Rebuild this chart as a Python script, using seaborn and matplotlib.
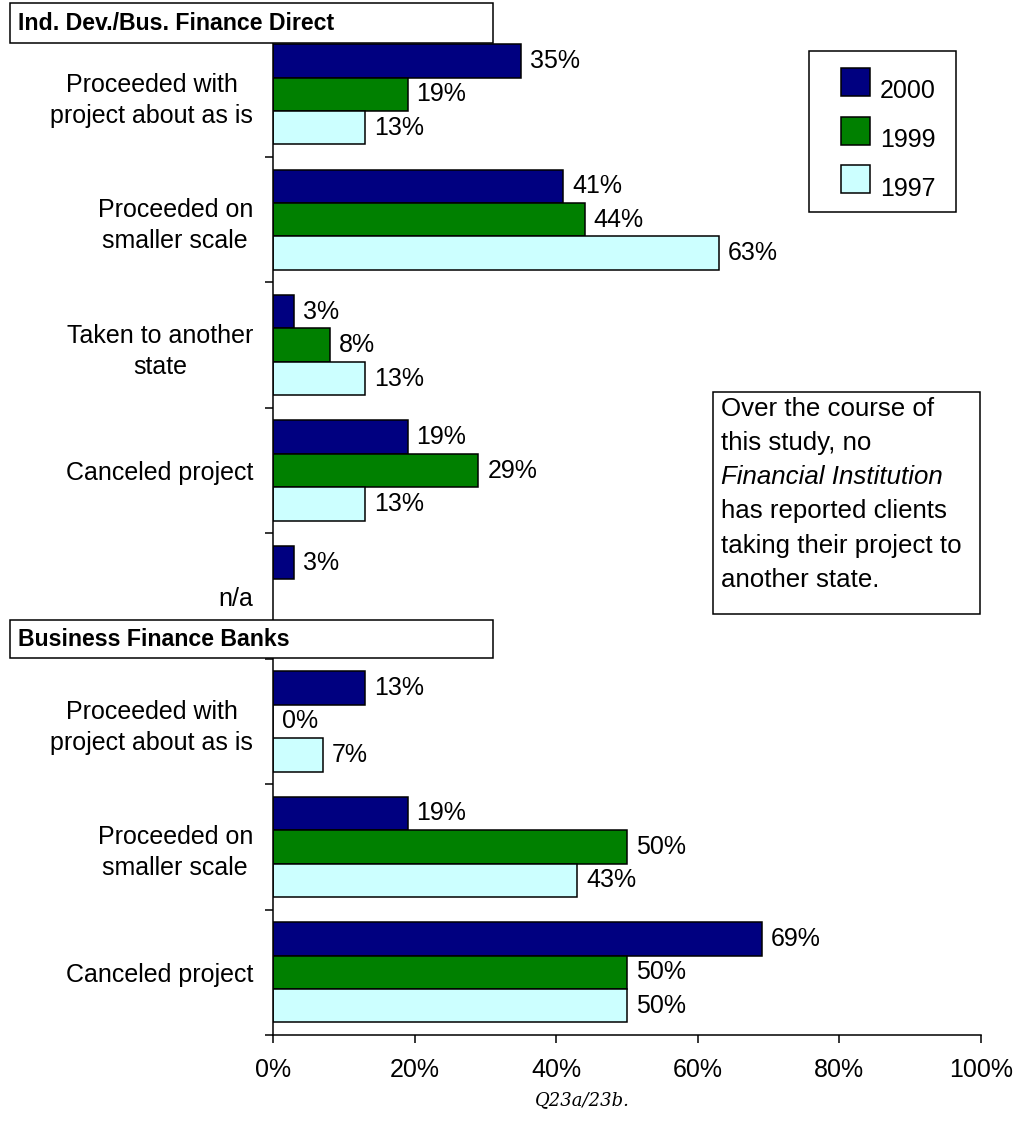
import numpy as np
import pandas as pd
import matplotlib
matplotlib.use("Agg")
import matplotlib.pyplot as plt
import matplotlib.transforms as mtransforms
from matplotlib.patches import Rectangle, Patch
from matplotlib.ticker import FuncFormatter
import seaborn as sns

# ---- data -------------------------------------------------------------
sections = ["Ind. Dev./Bus. Finance Direct", "Business Finance Banks"]
section_of_row = [0, 0, 0, 0, 0, 1, 1, 1]
outcomes = [
    "Proceeded with\nproject about as is",
    "Proceeded on\nsmaller scale",
    "Taken to another\nstate",
    "Canceled project",
    "n/a",
    "Proceeded with\nproject about as is",
    "Proceeded on\nsmaller scale",
    "Canceled project",
]
years = ["2000", "1999", "1997"]
v2000 = [35, 41, 3, 19, 3, 13, 19, 69]
v1999 = [19, 44, 8, 29, np.nan, 0, 50, 50]
v1997 = [13, 63, 13, 13, np.nan, 7, 43, 50]
colors = ["#000080", "#008000", "#CCFFFF"]
note_lines = [
    ("Over the course of", "normal"),
    ("this study, no", "normal"),
    ("Financial Institution", "italic"),
    ("has reported clients", "normal"),
    ("taking their project to", "normal"),
    ("another state.", "normal"),
]
footnote = "Q23a/23b."

# ---- long table -------------------------------------------------------
keys = [f"{sections[s]}|{o}" for s, o in zip(section_of_row, outcomes)]
rows = []
for yr, vals in zip(years, [v2000, v1999, v1997]):
    for k, v in zip(keys, vals):
        rows.append({"key": k, "year": yr, "pct": v})
df = pd.DataFrame(rows).dropna()

# ---- style ------------------------------------------------------------
sns.set_style("ticks")
plt.rcParams["font.family"] = ["Liberation Sans", "DejaVu Sans"]
plt.rcParams["text.color"] = "black"
plt.rcParams["axes.labelcolor"] = "black"
plt.rcParams["xtick.color"] = "black"
plt.rcParams["ytick.color"] = "black"
plt.rcParams["axes.edgecolor"] = "black"

W, H = 1026, 1132
fig = plt.figure(figsize=(W / 100, H / 100), dpi=100)
ax = fig.add_axes([273 / W, 1 - 1035 / H, (981 - 273) / W, (1035 - 31.6) / H])

sns.barplot(
    data=df, x="pct", y="key", hue="year",
    order=keys, hue_order=years, palette=colors,
    orient="h", width=0.8, saturation=1, errorbar=None,
    edgecolor="black", linewidth=1.1, legend=False, ax=ax,
)

FS = 18
for cont in ax.containers:
    ax.bar_label(cont, labels=[f"{b.get_width():.0f}%" for b in cont],
                 padding=6.5, fontsize=FS)

# axes
ax.set_xlim(0, 100)
ax.set_ylim(len(keys) - 0.5, -0.5)
ax.set_xlabel("")
ax.set_ylabel("")
ax.set_xticks(range(0, 101, 20))
ax.xaxis.set_major_formatter(FuncFormatter(lambda x, p: f"{x:.0f}%"))
ax.tick_params(axis="x", length=5.8, width=1.1, pad=11, labelsize=FS)

ax.set_yticks(range(len(keys)))
ax.set_yticklabels(outcomes)
lift = mtransforms.ScaledTranslation(0, 3 / 72, fig.dpi_scale_trans)
for lbl in ax.get_yticklabels():
    lbl.set_multialignment("center")
    lbl.set_linespacing(1.37)
    lbl.set_transform(lbl.get_transform() + lift)
ax.set_yticks(np.arange(-0.5, len(keys)), minor=True)
ax.tick_params(axis="y", which="major", length=0, pad=14.4, labelsize=FS)
ax.tick_params(axis="y", which="minor", length=5.8, width=1.1)

sns.despine(ax=ax, top=True, right=True)
for side in ["left", "bottom"]:
    ax.spines[side].set_linewidth(1.1)


def fx(px):
    return px / W


def fy(py):
    return 1 - py / H


# section headers
for title, top, bot in [(sections[0], 3, 43), (sections[1], 620, 658)]:
    fig.add_artist(Rectangle((fx(10), fy(bot)), fx(483), (bot - top) / H,
                             transform=fig.transFigure, facecolor="white",
                             edgecolor="black", linewidth=1.1, zorder=10))
    fig.text(fx(18), fy((top + bot) / 2), title, fontsize=16.7,
             fontweight="bold", va="center", ha="left", zorder=11)

# legend
handles = [Patch(facecolor=c, edgecolor="black", linewidth=1.1) for c in colors]
leg = fig.legend(handles, years, loc="upper left",
                 bbox_to_anchor=(fx(841), fy(68)), frameon=False,
                 borderpad=0, borderaxespad=0, fontsize=FS,
                 handlelength=1.16, handleheight=1.35,
                 labelspacing=0.82, handletextpad=0.4)
for t in leg.get_texts():
    t.set_y(-8)
fig.add_artist(Rectangle((fx(809), fy(212)), fx(147), 161 / H,
                         transform=fig.transFigure, fill=False,
                         edgecolor="black", linewidth=1.1, zorder=10))

# note box
fig.add_artist(Rectangle((fx(713), fy(614)), fx(267), 222 / H,
                         transform=fig.transFigure, facecolor="white",
                         edgecolor="black", linewidth=1.1, zorder=10))
for i, (line, style) in enumerate(note_lines):
    fig.text(fx(721), fy(408.5 + i * 34.3), line, fontsize=18.6,
             fontstyle=style, va="center", ha="left", zorder=11)

# footnote
fig.text(fx(582), fy(1100), footnote, fontsize=13, fontstyle="italic",
         family=["DejaVu Serif"], ha="center", va="center")

fig.savefig("out.png", dpi=100)
